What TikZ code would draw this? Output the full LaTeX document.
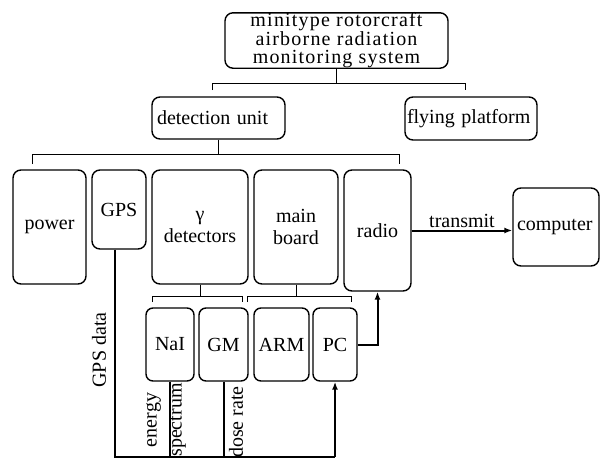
\documentclass[tikz,border=0pt]{standalone}
\usepackage{fontspec}
\setmainfont{Liberation Serif}
\usepackage{tikz}
\usetikzlibrary{positioning,arrows.meta}

\begin{document}
\begin{tikzpicture} [x=1pt, y=-1pt, auto, line width=1.4pt, >={Latex[length=8pt,width=6pt]},
                    blok/.style={draw,rounded corners=8pt,align=center,inner sep=0pt,font=\fontsize{20}{22}\selectfont},
                    lblok/.style={blok,align=left},
                    brk/.style={line width=1pt},
                    sig/.style={line width=2pt},
                    lab/.style={inner sep=0pt,font=\fontsize{20}{22}\selectfont}]
\useasboundingbox (0,0) rectangle (601,458);

\node[blok, minimum width=223pt, minimum height=55pt,
      font=\fontsize{20}{18.5}\selectfont\addfontfeatures{LetterSpace=6}] (sys) at (336.5,40.5)
    {minitype rotorcraft\\airborne radiation\\monitoring system};
\node[lblok, text width=123pt, inner xsep=5pt, minimum height=42pt] (det) at (218.5,118) {detection unit};
\node[lblok, text width=128pt, inner xsep=2pt, minimum height=43pt] (fly) at (471,118.5) {flying platform};

\node[blok, minimum width=73pt, minimum height=114pt] (power) at (49.5,227) {power};
\node[blok, minimum width=54pt, minimum height=79pt] (gps) at (119,209.5) {GPS};
\node[blok, minimum width=96pt, minimum height=114pt] (gdet) at (200,227) {γ\\detectors};
\node[blok, minimum width=84pt, minimum height=114pt] (main) at (296,227) {main\\board};
\node[blok, minimum width=67pt, minimum height=121pt] (radio) at (377.5,230.5) {radio};
\node[lblok, text width=78pt, inner xsep=4pt, minimum height=78pt] (comp) at (556,227) {computer};

\node[blok, rounded corners=7pt, minimum width=48pt, minimum height=73pt] (nai) at (170,344.5) {NaI};
\node[blok, rounded corners=7pt, minimum width=49pt, minimum height=73pt] (gm) at (223.5,344.5) {GM};
\node[blok, rounded corners=7pt, minimum width=55pt, minimum height=73pt] (arm) at (281.5,344.5) {ARM};
\node[blok, rounded corners=7pt, minimum width=44pt, minimum height=73pt] (pc) at (335,344.5) {PC};

% brackets
\coordinate (s1) at (212,90);
\coordinate (s2) at (465,90);
\coordinate (d1) at (32,164);
\coordinate (d2) at (399,164);
\coordinate (g1) at (152,302);
\coordinate (g2) at (242,302);
\coordinate (m1) at (247,302);
\coordinate (m2) at (351,302);
\draw[brk] (sys.south) -- ++(0,15) coordinate (t1);
\draw[brk] (s1) |- (t1) -| (s2);
\draw[brk] (det.south) -- ++(0,15) coordinate (t2);
\draw[brk] (d1) |- (t2) -| (d2);
\draw[brk] (gdet.south) -- ++(0,12) coordinate (t3);
\draw[brk] (g1) |- (t3) -| (g2);
\draw[brk] (main.south) -- ++(0,12) coordinate (t4);
\draw[brk] (m1) |- (t4) -| (m2);

% data lines
\coordinate (base) at (0,457);
\coordinate (gp) at ([xshift=-4pt]gps.south);
\draw[sig] (gp) -- (gp |- base) -- (pc.south |- base);
\draw[sig] (nai.south) -- (nai.south |- base);
\draw[sig] (gm.south) -- (gm.south |- base);
\draw[sig,->] (pc.south |- base) -- (pc.south);
\draw[sig,->] (pc.east) -| (radio.south);
\draw[sig,->] (radio.east) -- (radio.east -| comp.west) node[midway, inner sep=2pt, font=\fontsize{20}{22}\selectfont] {transmit};

\node[lab, rotate=90] (gpsd) at (99,350) {GPS data};
\node[lab, rotate=90, align=center, font=\fontsize{20}{25}\selectfont] (spec) at (166,420) {energy\\spectrum};
\node[lab, rotate=90] (dose) at (236,422) {dose rate};
\end{tikzpicture}
\end{document}
